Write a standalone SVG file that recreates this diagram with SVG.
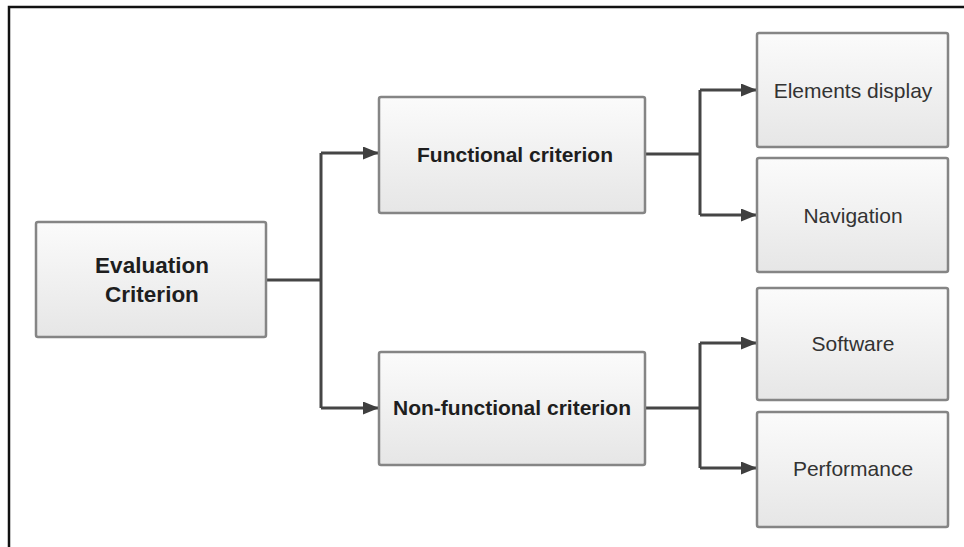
<svg xmlns="http://www.w3.org/2000/svg" width="964" height="547" viewBox="0 0 964 547">
  <defs>
    <linearGradient id="boxFill" x1="0" y1="0" x2="0" y2="1">
      <stop offset="0" stop-color="#fbfbfb"/>
      <stop offset="1" stop-color="#e6e6e6"/>
    </linearGradient>
    <marker id="arrow" viewBox="0 0 16 13" refX="16" refY="6.5" markerWidth="16" markerHeight="13" markerUnits="userSpaceOnUse" orient="auto">
      <path d="M0,0 L16,6.5 L0,13 Z" fill="#3f3f3f"/>
    </marker>
    <style>
      .box { fill: url(#boxFill); stroke: #858585; stroke-width: 2.5; }
      .wire { fill: none; stroke: #454545; stroke-width: 3; }
      .bold { font-family: "Liberation Sans", Arial, sans-serif; font-weight: bold; font-size: 21px; fill: #1e1e1e; text-anchor: middle; }
      .big { font-size: 22.5px; }
      .plain { font-family: "Liberation Sans", Arial, sans-serif; font-size: 21px; fill: #333333; text-anchor: middle; }
    </style>
  </defs>

  <rect x="0" y="0" width="964" height="547" fill="#ffffff"/>
  <!-- outer frame, right and bottom edges run past the canvas -->
  <rect x="9" y="7" width="990" height="580" fill="none" stroke="#111111" stroke-width="2.5"/>

  <g id="connectors">
    <path class="wire" d="M266,280 H321"/>
    <path class="wire" d="M321,153 V408"/>
    <path class="wire" d="M321,153 H379" marker-end="url(#arrow)"/>
    <path class="wire" d="M321,408 H379" marker-end="url(#arrow)"/>
    <path class="wire" d="M645,154 H700"/>
    <path class="wire" d="M700,90 V215"/>
    <path class="wire" d="M700,90 H757" marker-end="url(#arrow)"/>
    <path class="wire" d="M700,215 H757" marker-end="url(#arrow)"/>
    <path class="wire" d="M645,408 H700"/>
    <path class="wire" d="M700,343 V468"/>
    <path class="wire" d="M700,343 H757" marker-end="url(#arrow)"/>
    <path class="wire" d="M700,468 H757" marker-end="url(#arrow)"/>
  </g>

  <g id="evaluation-criterion">
    <rect class="box" x="36" y="222" width="230" height="115" rx="2"/>
    <text class="bold big" x="152" y="273">Evaluation</text>
    <text class="bold big" x="152" y="302">Criterion</text>
  </g>

  <g id="functional-criterion">
    <rect class="box" x="379" y="97" width="266" height="116" rx="2"/>
    <text class="bold" x="515" y="162">Functional criterion</text>
  </g>

  <g id="non-functional-criterion">
    <rect class="box" x="379" y="352" width="266" height="113" rx="2"/>
    <text class="bold" x="512" y="415">Non-functional criterion</text>
  </g>

  <g id="elements-display">
    <rect class="box" x="757" y="33" width="191" height="114" rx="2"/>
    <text class="plain" x="853" y="98">Elements display</text>
  </g>

  <g id="navigation">
    <rect class="box" x="757" y="158" width="191" height="114" rx="2"/>
    <text class="plain" x="853" y="223">Navigation</text>
  </g>

  <g id="software">
    <rect class="box" x="757" y="288" width="191" height="112" rx="2"/>
    <text class="plain" x="853" y="351">Software</text>
  </g>

  <g id="performance">
    <rect class="box" x="757" y="412" width="191" height="115" rx="2"/>
    <text class="plain" x="853" y="476">Performance</text>
  </g>
</svg>
